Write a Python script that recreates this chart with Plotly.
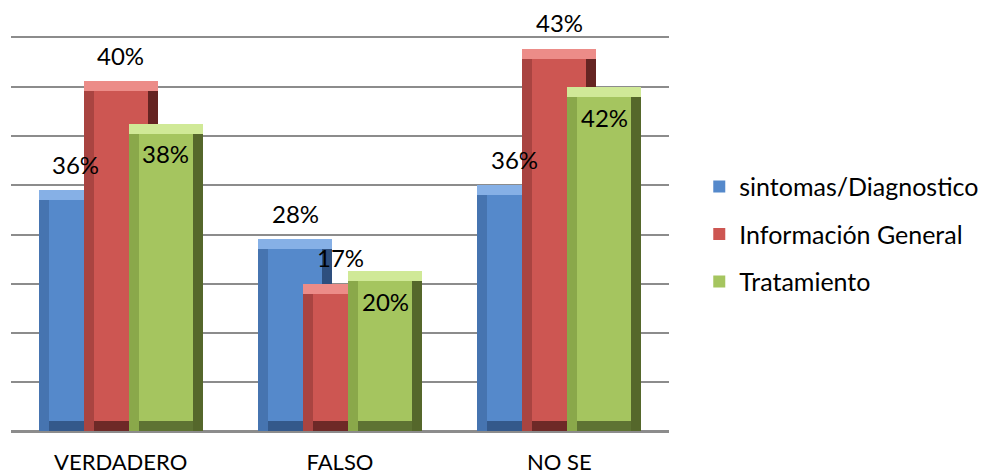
import plotly.graph_objects as go

# ---------------- data ----------------
categories = ["VERDADERO", "FALSO", "NO SE"]
series_names = ["sintomas/Diagnostico", "Información General", "Tratamiento"]

# bar heights read against the gridlines (gridline units)
heights_sintomas = [4.9, 3.9, 5.0]
heights_info = [7.12, 3.0, 7.78]
heights_trat = [6.25, 3.25, 7.0]

# data labels printed on the chart
labels_sintomas = ["36%", "28%", "36%"]
labels_info = ["40%", "17%", "43%"]
labels_trat = ["38%", "20%", "42%"]

# ---------------- styling ----------------
W, H = 982, 474
ML, MR, MT, MB = 11, 313, 38, 43
YMAX = 8
plot_w = W - ML - MR
plot_h = H - MT - MB
px_x = plot_w / 3.0          # px per category unit
px_y = plot_h / YMAX         # px per y unit

BAR_W = 74 / px_x
STEP = 45 / px_x
BX = 10 / px_x
BY = 10 / px_y

FONT = "Lato"
FS_LABEL = 24
FS_TICK = 22
FS_LEG = 25

# face, top, left, right, bottom
palettes = [
    ("#5589CB", "#86B0E6", "#4674B0", "#2E4F7E", "#34598B"),
    ("#CD5652", "#EC8C88", "#A94441", "#652422", "#6E2927"),
    ("#A5C55F", "#D0E997", "#8AA84A", "#55672B", "#5E7333"),
]

series_heights = [heights_sintomas, heights_info, heights_trat]
series_labels = [labels_sintomas, labels_info, labels_trat]
label_shift = [26, 26, -30]

fig = go.Figure()
annotations = []

for i, (name, hts, labs, pal) in enumerate(zip(series_names, series_heights, series_labels, palettes)):
    face, top, left, right, bottom = pal
    center = (i - 1) * STEP
    lx = center - BAR_W / 2
    # main bar (face colour)
    fig.add_trace(go.Bar(
        x=categories, y=hts, offset=lx, width=BAR_W,
        marker=dict(color=face, line=dict(width=0)),
        name=name, legendgroup=name, showlegend=True, hoverinfo="skip",
    ))
    # right bevel
    fig.add_trace(go.Bar(
        x=categories, y=hts, offset=lx + BAR_W - BX, width=BX,
        marker=dict(color=right, line=dict(width=0)),
        legendgroup=name, showlegend=False, hoverinfo="skip",
    ))
    # left bevel
    fig.add_trace(go.Bar(
        x=categories, y=hts, offset=lx, width=BX,
        marker=dict(color=left, line=dict(width=0)),
        legendgroup=name, showlegend=False, hoverinfo="skip",
    ))
    # bottom bevel
    fig.add_trace(go.Bar(
        x=categories, y=[BY] * len(hts), base=[0] * len(hts),
        offset=lx + BX, width=BAR_W - 2 * BX,
        marker=dict(color=bottom, line=dict(width=0)),
        legendgroup=name, showlegend=False, hoverinfo="skip",
    ))
    # top bevel
    fig.add_trace(go.Bar(
        x=categories, y=[BY] * len(hts), base=[h - BY for h in hts],
        offset=lx, width=BAR_W,
        marker=dict(color=top, line=dict(width=0)),
        legendgroup=name, showlegend=False, hoverinfo="skip",
    ))
    for j, (h, lab) in enumerate(zip(hts, labs)):
        annotations.append(dict(
            x=j + center, y=h, xref="x", yref="y", text=lab, showarrow=False,
            yshift=label_shift[i], yanchor="middle", xanchor="center",
            font=dict(family=FONT, size=FS_LABEL, color="#000000"),
        ))

fig.update_layout(
    width=W, height=H,
    margin=dict(l=ML, r=MR, t=MT, b=MB, autoexpand=False),
    paper_bgcolor="white", plot_bgcolor="white",
    barmode="overlay", bargap=0,
    annotations=annotations,
    font=dict(family=FONT, size=FS_TICK, color="#000000"),
    legend=dict(
        x=1.046, xanchor="left", y=0.68, yanchor="top",
        font=dict(family=FONT, size=FS_LEG, color="#000000"),
        tracegroupgap=12, bgcolor="rgba(0,0,0,0)",
    ),
    showlegend=True,
)
fig.update_xaxes(
    type="category", range=[-0.5, 2.5], showgrid=False,
    showline=True, mirror=True, linecolor="#8C8C8C", linewidth=1.5,
    ticks="", tickfont=dict(family=FONT, size=FS_TICK, color="#000000"),
    ticklabelstandoff=11, fixedrange=True, automargin=False,
)
fig.update_yaxes(
    range=[0, YMAX], dtick=1, showticklabels=False,
    showgrid=True, gridcolor="#8C8C8C", gridwidth=1.5,
    zeroline=True, zerolinecolor="#8C8C8C", zerolinewidth=1.5,
    showline=False, ticks="", fixedrange=True, automargin=False,
)

fig.write_html("out.html")
